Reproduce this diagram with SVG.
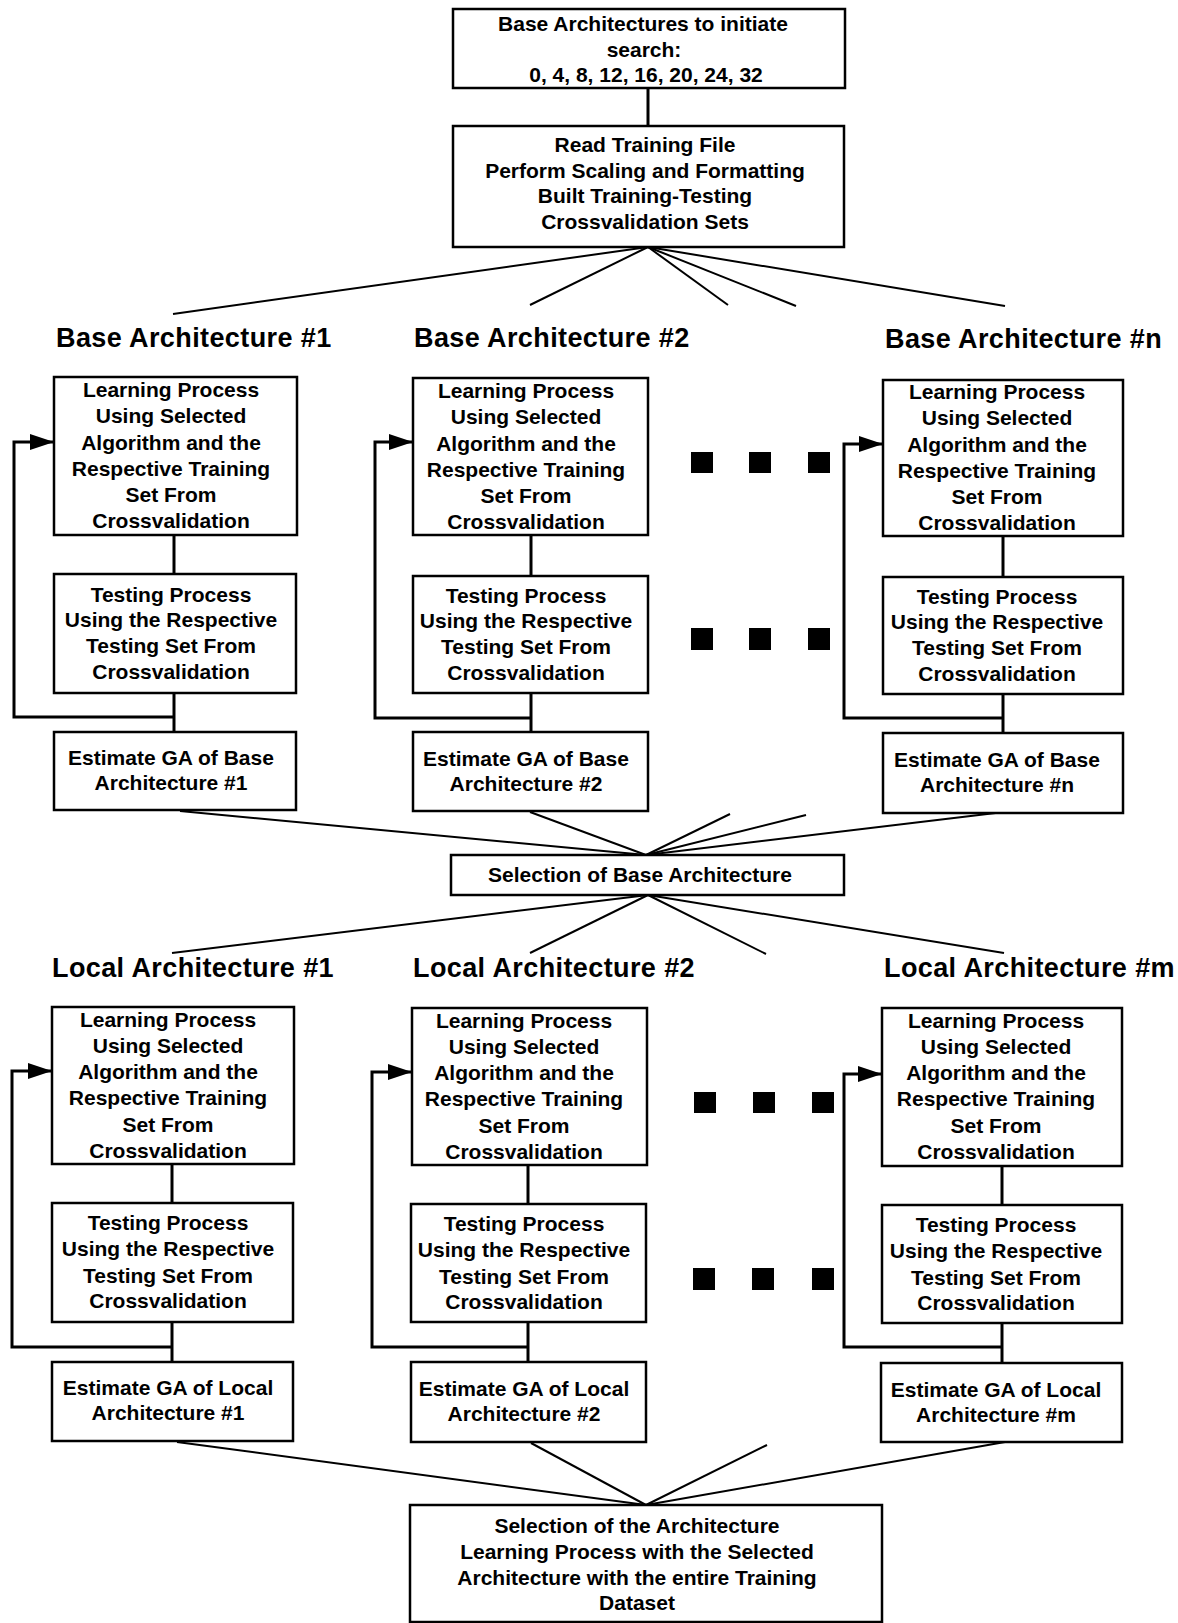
<svg xmlns="http://www.w3.org/2000/svg" width="1178" height="1623" viewBox="0 0 1178 1623">
  <style>
    .box { fill: #ffffff; stroke: #000000; stroke-width: 2.5; }
    .t { font-family: "Liberation Sans", Arial, Helvetica, sans-serif; font-weight: bold; font-size: 21px; fill: #000000; text-anchor: middle; }
    .hdr { font-family: "Liberation Sans", Arial, Helvetica, sans-serif; font-weight: bold; font-size: 27px; letter-spacing: 0.4px; fill: #000000; }
    .fan { fill: none; stroke: #000000; stroke-width: 2; }
    .link { fill: none; stroke: #000000; stroke-width: 3; }
    .loop { fill: none; stroke: #000000; stroke-width: 3; stroke-linejoin: miter; marker-end: url(#head); }
    .dot { fill: #000000; }
  </style>
  <defs>
    <marker id="head" markerUnits="userSpaceOnUse" markerWidth="24" markerHeight="16" refX="24" refY="8" orient="auto">
      <path d="M0,0 L24,8 L0,16 Z" fill="#000000"/>
    </marker>
  </defs>

  <rect x="0" y="0" width="1178" height="1623" fill="#ffffff"/>

  <!-- connectors -->
  <g id="connectors">
    <!-- start box to preparation box -->
    <line class="link" x1="648" y1="88" x2="648" y2="126"/>
    <!-- fan out to base architectures -->
    <line class="fan" x1="648" y1="247" x2="173" y2="314"/>
    <line class="fan" x1="648" y1="247" x2="530" y2="305"/>
    <line class="fan" x1="648" y1="247" x2="728" y2="305"/>
    <line class="fan" x1="648" y1="247" x2="796" y2="306"/>
    <line class="fan" x1="648" y1="247" x2="1005" y2="306"/>

    <!-- base #1 column -->
    <line class="link" x1="174" y1="535" x2="174" y2="574"/>
    <line class="link" x1="174" y1="693" x2="174" y2="732"/>
    <path class="loop" d="M174,717 L14,717 L14,442 L54,442"/>
    <!-- base #2 column -->
    <line class="link" x1="531" y1="535" x2="531" y2="576"/>
    <line class="link" x1="531" y1="693" x2="531" y2="732"/>
    <path class="loop" d="M531,718 L375,718 L375,442 L413,442"/>
    <!-- base #n column -->
    <line class="link" x1="1003" y1="536" x2="1003" y2="577"/>
    <line class="link" x1="1003" y1="694" x2="1003" y2="733"/>
    <path class="loop" d="M1003,718 L844,718 L844,444 L883,444"/>

    <!-- fan in to base selection -->
    <line class="fan" x1="180" y1="811" x2="646" y2="855"/>
    <line class="fan" x1="530" y1="812" x2="646" y2="855"/>
    <line class="fan" x1="730" y1="814" x2="646" y2="855"/>
    <line class="fan" x1="806" y1="815" x2="646" y2="855"/>
    <line class="fan" x1="1004" y1="812" x2="646" y2="855"/>

    <!-- fan out to local architectures -->
    <line class="fan" x1="648" y1="895" x2="172" y2="953"/>
    <line class="fan" x1="648" y1="895" x2="530" y2="953"/>
    <line class="fan" x1="648" y1="895" x2="766" y2="954"/>
    <line class="fan" x1="648" y1="895" x2="1004" y2="953"/>

    <!-- local #1 column -->
    <line class="link" x1="172" y1="1164" x2="172" y2="1203"/>
    <line class="link" x1="172" y1="1322" x2="172" y2="1362"/>
    <path class="loop" d="M172,1347 L12,1347 L12,1071 L52,1071"/>
    <!-- local #2 column -->
    <line class="link" x1="528" y1="1165" x2="528" y2="1204"/>
    <line class="link" x1="528" y1="1322" x2="528" y2="1362"/>
    <path class="loop" d="M528,1347 L372,1347 L372,1072 L412,1072"/>
    <!-- local #m column -->
    <line class="link" x1="1002" y1="1166" x2="1002" y2="1205"/>
    <line class="link" x1="1002" y1="1323" x2="1002" y2="1363"/>
    <path class="loop" d="M1002,1347 L844,1347 L844,1074 L882,1074"/>

    <!-- fan in to final selection -->
    <line class="fan" x1="177" y1="1442" x2="646" y2="1505"/>
    <line class="fan" x1="531" y1="1443" x2="646" y2="1505"/>
    <line class="fan" x1="767" y1="1445" x2="646" y2="1505"/>
    <line class="fan" x1="1005" y1="1442" x2="646" y2="1505"/>
  </g>

  <!-- start and preparation -->
  <g id="start">
    <rect class="box" x="453" y="9" width="392" height="79"/>
    <text class="t" x="643" y="31">Base Architectures to initiate</text>
    <text class="t" x="644" y="57">search:</text>
    <text class="t" x="646" y="82">0, 4, 8, 12, 16, 20, 24, 32</text>
  </g>
  <g id="prepare">
    <rect class="box" x="453" y="126" width="391" height="121"/>
    <text class="t" x="645" y="152">Read Training File</text>
    <text class="t" x="645" y="178">Perform Scaling and Formatting</text>
    <text class="t" x="645" y="203">Built Training-Testing</text>
    <text class="t" x="645" y="229">Crossvalidation Sets</text>
  </g>

  <!-- base architecture headings -->
  <text id="base1-title" class="hdr" x="56" y="347">Base Architecture #1</text>
  <text id="base2-title" class="hdr" x="414" y="347">Base Architecture #2</text>
  <text id="basen-title" class="hdr" x="885" y="348">Base Architecture #n</text>

  <!-- base #1 -->
  <g id="base1-learn">
    <rect class="box" x="54" y="377" width="243" height="158"/>
    <text class="t" x="171" y="397">Learning Process</text>
    <text class="t" x="171" y="423">Using Selected</text>
    <text class="t" x="171" y="450">Algorithm and the</text>
    <text class="t" x="171" y="476">Respective Training</text>
    <text class="t" x="171" y="502">Set From</text>
    <text class="t" x="171" y="528">Crossvalidation</text>
  </g>
  <g id="base1-test">
    <rect class="box" x="54" y="574" width="242" height="119"/>
    <text class="t" x="171" y="602">Testing Process</text>
    <text class="t" x="171" y="627">Using the Respective</text>
    <text class="t" x="171" y="653">Testing Set From</text>
    <text class="t" x="171" y="679">Crossvalidation</text>
  </g>
  <g id="base1-estimate">
    <rect class="box" x="54" y="732" width="242" height="78"/>
    <text class="t" x="171" y="765">Estimate GA of Base</text>
    <text class="t" x="171" y="790">Architecture #1</text>
  </g>

  <!-- base #2 -->
  <g id="base2-learn">
    <rect class="box" x="413" y="378" width="235" height="157"/>
    <text class="t" x="526" y="398">Learning Process</text>
    <text class="t" x="526" y="424">Using Selected</text>
    <text class="t" x="526" y="451">Algorithm and the</text>
    <text class="t" x="526" y="477">Respective Training</text>
    <text class="t" x="526" y="503">Set From</text>
    <text class="t" x="526" y="529">Crossvalidation</text>
  </g>
  <g id="base2-test">
    <rect class="box" x="413" y="576" width="235" height="117"/>
    <text class="t" x="526" y="603">Testing Process</text>
    <text class="t" x="526" y="628">Using the Respective</text>
    <text class="t" x="526" y="654">Testing Set From</text>
    <text class="t" x="526" y="680">Crossvalidation</text>
  </g>
  <g id="base2-estimate">
    <rect class="box" x="413" y="732" width="235" height="79"/>
    <text class="t" x="526" y="766">Estimate GA of Base</text>
    <text class="t" x="526" y="791">Architecture #2</text>
  </g>

  <!-- base #n -->
  <g id="basen-learn">
    <rect class="box" x="883" y="380" width="240" height="156"/>
    <text class="t" x="997" y="399">Learning Process</text>
    <text class="t" x="997" y="425">Using Selected</text>
    <text class="t" x="997" y="452">Algorithm and the</text>
    <text class="t" x="997" y="478">Respective Training</text>
    <text class="t" x="997" y="504">Set From</text>
    <text class="t" x="997" y="530">Crossvalidation</text>
  </g>
  <g id="basen-test">
    <rect class="box" x="883" y="577" width="240" height="117"/>
    <text class="t" x="997" y="604">Testing Process</text>
    <text class="t" x="997" y="629">Using the Respective</text>
    <text class="t" x="997" y="655">Testing Set From</text>
    <text class="t" x="997" y="681">Crossvalidation</text>
  </g>
  <g id="basen-estimate">
    <rect class="box" x="883" y="733" width="240" height="80"/>
    <text class="t" x="997" y="767">Estimate GA of Base</text>
    <text class="t" x="997" y="792">Architecture #n</text>
  </g>

  <!-- ellipsis squares, base row -->
  <g id="base-ellipsis">
    <rect class="dot" x="691" y="452" width="22" height="21"/>
    <rect class="dot" x="749" y="452" width="22" height="21"/>
    <rect class="dot" x="808" y="452" width="22" height="21"/>
    <rect class="dot" x="691" y="628" width="22" height="22"/>
    <rect class="dot" x="749" y="628" width="22" height="22"/>
    <rect class="dot" x="808" y="628" width="22" height="22"/>
  </g>

  <!-- base selection -->
  <g id="base-select">
    <rect class="box" x="451" y="855" width="393" height="40"/>
    <text class="t" x="640" y="882">Selection of Base Architecture</text>
  </g>

  <!-- local architecture headings -->
  <text id="local1-title" class="hdr" x="52" y="977">Local Architecture #1</text>
  <text id="local2-title" class="hdr" x="413" y="977">Local Architecture #2</text>
  <text id="localm-title" class="hdr" x="884" y="977">Local Architecture #m</text>

  <!-- local #1 -->
  <g id="local1-learn">
    <rect class="box" x="52" y="1007" width="242" height="157"/>
    <text class="t" x="168" y="1027">Learning Process</text>
    <text class="t" x="168" y="1053">Using Selected</text>
    <text class="t" x="168" y="1079">Algorithm and the</text>
    <text class="t" x="168" y="1105">Respective Training</text>
    <text class="t" x="168" y="1132">Set From</text>
    <text class="t" x="168" y="1158">Crossvalidation</text>
  </g>
  <g id="local1-test">
    <rect class="box" x="52" y="1203" width="241" height="119"/>
    <text class="t" x="168" y="1230">Testing Process</text>
    <text class="t" x="168" y="1256">Using the Respective</text>
    <text class="t" x="168" y="1283">Testing Set From</text>
    <text class="t" x="168" y="1308">Crossvalidation</text>
  </g>
  <g id="local1-estimate">
    <rect class="box" x="52" y="1362" width="241" height="79"/>
    <text class="t" x="168" y="1395">Estimate GA of Local</text>
    <text class="t" x="168" y="1420">Architecture #1</text>
  </g>

  <!-- local #2 -->
  <g id="local2-learn">
    <rect class="box" x="412" y="1008" width="235" height="157"/>
    <text class="t" x="524" y="1028">Learning Process</text>
    <text class="t" x="524" y="1054">Using Selected</text>
    <text class="t" x="524" y="1080">Algorithm and the</text>
    <text class="t" x="524" y="1106">Respective Training</text>
    <text class="t" x="524" y="1133">Set From</text>
    <text class="t" x="524" y="1159">Crossvalidation</text>
  </g>
  <g id="local2-test">
    <rect class="box" x="411" y="1204" width="235" height="118"/>
    <text class="t" x="524" y="1231">Testing Process</text>
    <text class="t" x="524" y="1257">Using the Respective</text>
    <text class="t" x="524" y="1284">Testing Set From</text>
    <text class="t" x="524" y="1309">Crossvalidation</text>
  </g>
  <g id="local2-estimate">
    <rect class="box" x="411" y="1362" width="235" height="80"/>
    <text class="t" x="524" y="1396">Estimate GA of Local</text>
    <text class="t" x="524" y="1421">Architecture #2</text>
  </g>

  <!-- local #m -->
  <g id="localm-learn">
    <rect class="box" x="882" y="1008" width="240" height="158"/>
    <text class="t" x="996" y="1028">Learning Process</text>
    <text class="t" x="996" y="1054">Using Selected</text>
    <text class="t" x="996" y="1080">Algorithm and the</text>
    <text class="t" x="996" y="1106">Respective Training</text>
    <text class="t" x="996" y="1133">Set From</text>
    <text class="t" x="996" y="1159">Crossvalidation</text>
  </g>
  <g id="localm-test">
    <rect class="box" x="882" y="1205" width="240" height="118"/>
    <text class="t" x="996" y="1232">Testing Process</text>
    <text class="t" x="996" y="1258">Using the Respective</text>
    <text class="t" x="996" y="1285">Testing Set From</text>
    <text class="t" x="996" y="1310">Crossvalidation</text>
  </g>
  <g id="localm-estimate">
    <rect class="box" x="881" y="1363" width="241" height="79"/>
    <text class="t" x="996" y="1397">Estimate GA of Local</text>
    <text class="t" x="996" y="1422">Architecture #m</text>
  </g>

  <!-- ellipsis squares, local row -->
  <g id="local-ellipsis">
    <rect class="dot" x="694" y="1092" width="22" height="21"/>
    <rect class="dot" x="753" y="1092" width="22" height="21"/>
    <rect class="dot" x="812" y="1092" width="22" height="21"/>
    <rect class="dot" x="693" y="1268" width="22" height="22"/>
    <rect class="dot" x="752" y="1268" width="22" height="22"/>
    <rect class="dot" x="812" y="1268" width="22" height="22"/>
  </g>

  <!-- final selection -->
  <g id="final-select">
    <rect class="box" x="410" y="1505" width="472" height="117"/>
    <text class="t" x="637" y="1533">Selection of the Architecture</text>
    <text class="t" x="637" y="1559">Learning Process with the Selected</text>
    <text class="t" x="637" y="1585">Architecture with the entire Training</text>
    <text class="t" x="637" y="1610">Dataset</text>
  </g>
</svg>
